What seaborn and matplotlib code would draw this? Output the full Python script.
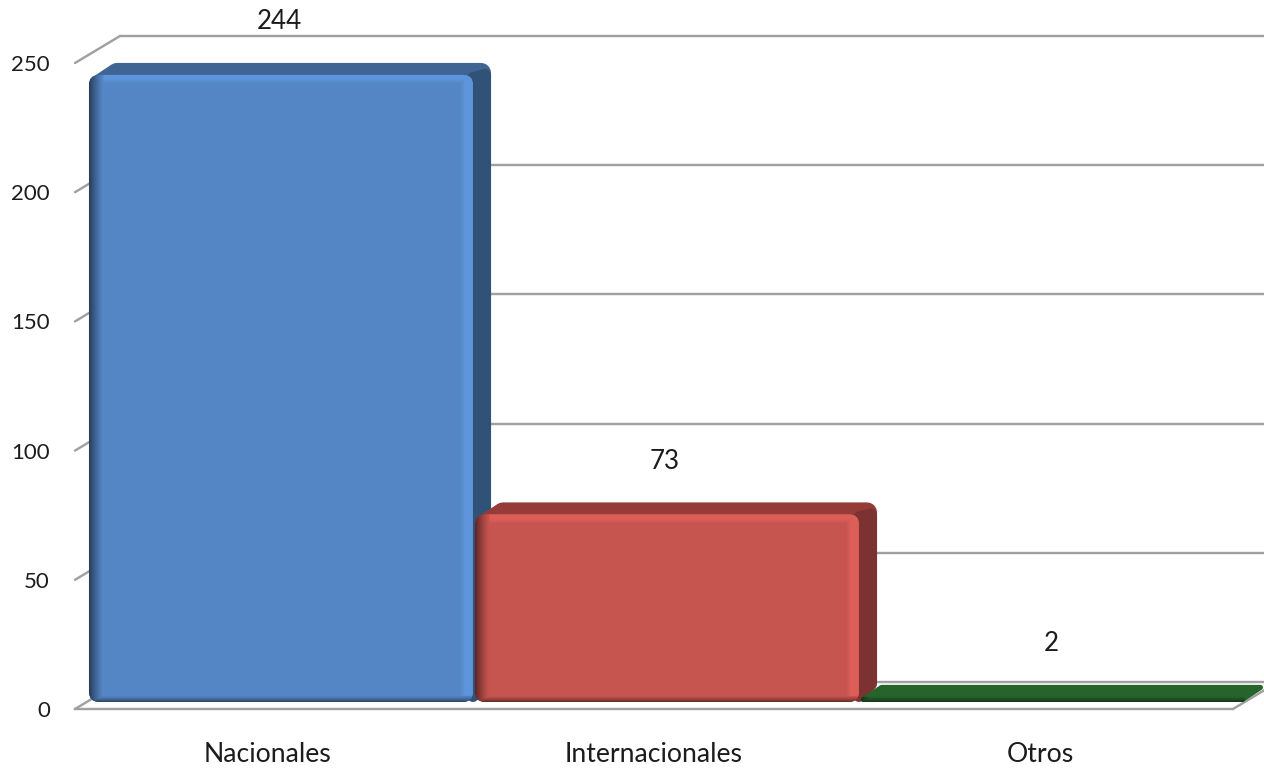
import numpy as np
import pandas as pd
import matplotlib
matplotlib.use("Agg")
import matplotlib.pyplot as plt
from matplotlib.colors import to_rgb
from matplotlib.patches import FancyBboxPatch, Polygon
from matplotlib.transforms import Affine2D, IdentityTransform
import seaborn as sns

categories = ["Nacionales", "Internacionales", "Otros"]
values = [244, 73, 2]
y_ticks = [0, 50, 100, 150, 200, 250]

face_colors = ["#5485C4", "#C6544F", "#2A6C30"]
top_colors = ["#3E6594", "#953C39", "#25652C"]
side_colors = ["#305277", "#7C3230", "#25652C"]

W, H = 1264, 768
GRID = "#A0A0A0"
TEXT = "#1C1C1C"

sns.set_theme(style="white")
plt.rcParams["font.family"] = ["Lato", "DejaVu Sans"]
PX = 72 / 100  # points per pixel


def fig_rect(left, top, right, bottom):
    return [left / W, 1 - bottom / H, (right - left) / W, (bottom - top) / H]


fig = plt.figure(figsize=(W / 100, H / 100), dpi=100, facecolor="white")

# front plane of the chart box: holds the axis, the labels and the back wall
ax = fig.add_axes(fig_rect(75, 63, 1233, 709), facecolor="none", zorder=1)
ax.set_xlim(-0.5, 2.5)
ax.set_ylim(0, 250)
sns.despine(ax=ax, left=True, right=True, top=True)
ax.spines["bottom"].set_color(GRID)
ax.spines["bottom"].set_linewidth(2.4 * PX)
ax.set_xticks(range(len(categories)), categories)
ax.set_yticks(y_ticks)
ax.tick_params(axis="x", length=0, pad=33 * PX, labelsize=19.2, labelcolor=TEXT)
ax.tick_params(axis="y", length=0, pad=25 * PX, labelsize=16, labelcolor=TEXT)

# back wall: grid lines pushed up and right, joined by slanted ticks
wall = Affine2D().translate(45, 27)
for v in y_ticks:
    ax.plot([-0.5, 2.5], [v, v], color=GRID, lw=2.4 * PX, clip_on=False,
            transform=ax.transData + wall)
    x0, y0 = ax.transData.transform((-0.5, v))
    ax.plot([x0, x0 + 45], [y0, y0 + 27], color=GRID, lw=2.4 * PX, clip_on=False,
            transform=IdentityTransform())
xr, yr = ax.transData.transform((2.5, 0))
ax.plot([xr, xr + 45], [yr, yr + 27], color=GRID, lw=2.4 * PX, clip_on=False,
        transform=IdentityTransform())

# bars sit a little behind the front plane, on their own axes
ax_bars = fig.add_axes(fig_rect(88, 702 - 2.57 * 250, 1246, 702), facecolor="none", zorder=2)
df = pd.DataFrame({"Tipo": categories, "Total": values})
sns.barplot(data=df, x="Tipo", y="Total", hue="Tipo", palette=face_colors, legend=False,
            width=0.995, saturation=1, ax=ax_bars)
ax_bars.set_xlim(-0.5, 2.5)
ax_bars.set_ylim(0, 250)
ax_bars.axis("off")

DX, DY = 18, 12
R = 10


def add_depth(box, top_c, side_c, z, r):
    x0, y0, x1, y1 = box.x0, box.y0, box.x1, box.y1
    hull = [(x0 + r, y0 + r), (x0 + r, y1 - r), (x0 + DX + r, y1 + DY - r),
            (x1 + DX - r, y1 + DY - r), (x1 + DX - r, y0 + DY + r), (x1 - r, y0 + r)]
    ax_bars.add_patch(Polygon(hull, closed=True, facecolor=top_c, edgecolor=top_c,
                              lw=2 * r * PX, joinstyle="round", clip_on=False,
                              transform=IdentityTransform(), zorder=z))
    if box.height < 2 * R:
        return
    s = r * 0.6
    side = [(x1, y1 - 3), (x1 + DX - s, y1 + DY - r - 2), (x1 + DX - s, y0 + DY + s), (x1, y0 + s)]
    ax_bars.add_patch(Polygon(side, closed=True, facecolor=side_c, edgecolor=side_c,
                              lw=2 * s * PX, joinstyle="round", clip_on=False,
                              transform=IdentityTransform(), zorder=z + 0.1))


def bevel(w, h, color):
    # shading of the bar edges, in pixels from each side
    xs = np.arange(w)[None, :] + 0.5
    ys = np.arange(h)[:, None] + 0.5
    right = w - xs
    left = np.clip(1 - xs / 14, 0, 1) ** 1.2
    bottom = np.clip(1 - (h - ys) / 6, 0, 1) ** 1.2
    band_r = np.clip((14 - right) / 5, 0, 1) * np.clip(right / 2, 0, 1)
    band_t = np.clip((10 - ys) / 5, 0, 1)
    light = np.maximum(band_r, band_t) * np.ones((h, w))
    dark = np.maximum(0.55 * left * np.ones((h, w)), 0.5 * bottom * np.ones((h, w)))
    bright = np.clip(np.array(to_rgb(color)) * 1.12, 0, 1)
    img = np.zeros((h, w, 4))
    keep = dark > 0.01
    img[..., :3] = np.where(keep[..., None], np.zeros(3), bright)
    img[..., 3] = np.where(keep, dark, light)
    return img


fig.canvas.draw()
for i, rect in enumerate(ax_bars.patches):
    box = rect.get_window_extent()
    z = 3 + i
    r = min(R, box.height / 2)
    add_depth(box, top_colors[i], side_colors[i], z, r)
    clip = FancyBboxPatch((box.x0, box.y0), box.width, box.height,
                          boxstyle=f"round,pad=0,rounding_size={r}",
                          transform=IdentityTransform())
    rect.set_zorder(z + 0.2)
    rect.set_linewidth(0)
    rect.set_clip_path(clip)
    shade = bevel(int(round(box.width)), max(int(round(box.height)), 1), face_colors[i])
    im = ax_bars.imshow(shade,
                        extent=(rect.get_x(), rect.get_x() + rect.get_width(), 0, rect.get_height()),
                        aspect="auto", zorder=z + 0.3, interpolation="bilinear")
    im.set_clip_path(clip)
    ax_bars.annotate(str(values[i]), (rect.get_x() + rect.get_width() / 2, rect.get_height()),
                     xytext=(-2 * PX, 53 * PX), textcoords="offset points", ha="center",
                     va="center", fontsize=18.7, color=TEXT, annotation_clip=False, zorder=20)

ax_bars.set_xlim(-0.5, 2.5)
ax_bars.set_ylim(0, 250)

fig.savefig("out.png", dpi=100)
